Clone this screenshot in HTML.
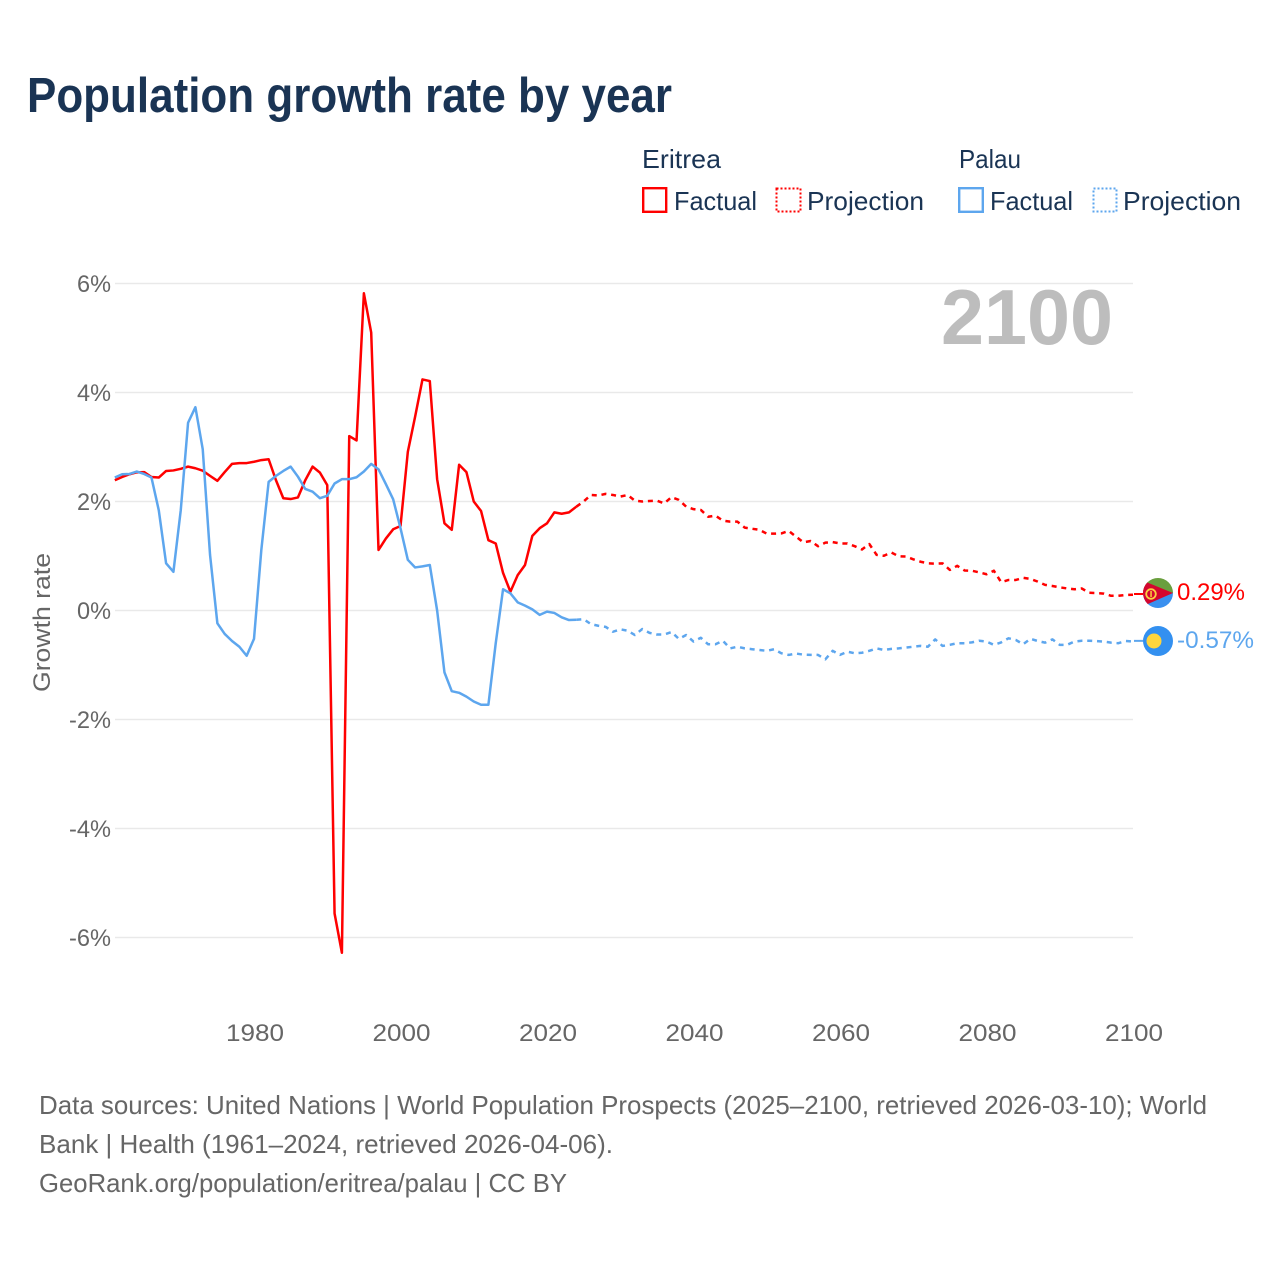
<!DOCTYPE html>
<html lang="en">
<head>
<meta charset="utf-8">
<title>Population growth rate by year</title>
<style>
html,body{margin:0;padding:0;background:#fff;}
svg{display:block;font-family:"Liberation Sans",sans-serif;}
</style>
</head>
<body>
<svg id="chart" xmlns="http://www.w3.org/2000/svg" width="1280" height="1280" viewBox="0 0 1280 1280">
  <defs>
    <clipPath id="flag-clip-a"><circle cx="1158" cy="593" r="15"></circle></clipPath>
  </defs>
  <rect x="0" y="0" width="1280" height="1280" fill="#fff"></rect>
  <text x="27" y="112" font-size="49" font-weight="700" fill="#1a3454" textLength="645" lengthAdjust="spacingAndGlyphs">Population growth rate by year</text>

  <g font-size="26" fill="#1a3454">
    <text x="642" y="168" textLength="79" lengthAdjust="spacingAndGlyphs">Eritrea</text>
    <rect x="643.2" y="188.2" width="23" height="23.6" fill="none" stroke="#ff0000" stroke-width="2.4"></rect>
    <text x="674" y="210" textLength="83" lengthAdjust="spacingAndGlyphs">Factual</text>
    <rect x="776.5" y="188.5" width="24" height="23" fill="none" stroke="#ff0000" stroke-width="2" stroke-dasharray="2 2"></rect>
    <text x="807" y="210" textLength="117" lengthAdjust="spacingAndGlyphs">Projection</text>
    <text x="959" y="168" textLength="62" lengthAdjust="spacingAndGlyphs">Palau</text>
    <rect x="959.2" y="188.2" width="23.6" height="23.6" fill="none" stroke="#5da6ee" stroke-width="2.4"></rect>
    <text x="990" y="210" textLength="83" lengthAdjust="spacingAndGlyphs">Factual</text>
    <rect x="1093.5" y="188.5" width="23" height="23" fill="none" stroke="#5da6ee" stroke-width="2" stroke-dasharray="2 2"></rect>
    <text x="1123" y="210" textLength="118" lengthAdjust="spacingAndGlyphs">Projection</text>
  </g>

  <g id="grid"></g>
  <g id="y-ticks" font-size="24" fill="#666"></g>
  <g id="x-ticks" font-size="24" fill="#666"></g>
  <text transform="translate(50 622.5) rotate(-90)" text-anchor="middle" font-size="24" fill="#666" textLength="139" lengthAdjust="spacingAndGlyphs">Growth rate</text>
  <text x="941" y="344" font-size="78" font-weight="700" fill="#bdbdbd" textLength="172" lengthAdjust="spacingAndGlyphs">2100</text>
  <g id="series"></g>

  <g id="flag-eritrea">
    <g clip-path="url(#flag-clip-a)">
      <rect x="1140" y="575" width="36" height="18" fill="#6a9f3e"></rect>
      <rect x="1140" y="593" width="36" height="18" fill="#3a90ef"></rect>
      <polygon points="1140,579.5 1173,593 1140,607.5" fill="#d4062e"></polygon>
      <circle cx="1151" cy="594" r="4.8" fill="none" stroke="#f8d040" stroke-width="1.8"></circle>
      <rect x="1150.3" y="591" width="1.5" height="6" fill="#f8d040"></rect>
    </g>
  </g>
  <g id="flag-palau">
    <circle cx="1158" cy="641" r="15" fill="#3390f0"></circle>
    <circle cx="1154" cy="641" r="7.5" fill="#ffd53d"></circle>
  </g>
  <text id="label-eritrea" x="1177" y="600" font-size="24" fill="#ff0000" textLength="68" lengthAdjust="spacingAndGlyphs"></text>
  <text id="label-palau" x="1177" y="648" font-size="24" fill="#5da6ee" textLength="77" lengthAdjust="spacingAndGlyphs"></text>

  <g font-size="26" fill="#666">
    <text x="39" y="1114" textLength="1168" lengthAdjust="spacingAndGlyphs">Data sources: United Nations | World Population Prospects (2025–2100, retrieved 2026-03-10); World</text>
    <text x="39" y="1153" textLength="574" lengthAdjust="spacingAndGlyphs">Bank | Health (1961–2024, retrieved 2026-04-06).</text>
    <text x="39" y="1192" textLength="528" lengthAdjust="spacingAndGlyphs">GeoRank.org/population/eritrea/palau | CC BY</text>
  </g>
</svg>
<script>
var yTicks = [6, 4, 2, 0, -2, -4, -6];
var xTicks = [1980, 2000, 2020, 2040, 2060, 2080, 2100];
var factualStartYear = 1961;
var projectionStartYear = 2024;
var eritreaFactual = [2.39,2.45,2.5,2.535,2.54,2.45,2.44,2.56,2.57,2.6,2.64,2.61,2.565,2.47,2.38,2.54,2.69,2.705,2.705,2.73,2.76,2.775,2.39,2.06,2.045,2.075,2.39,2.64,2.53,2.3,-5.56,-6.28,3.2,3.12,5.82,5.1,1.11,1.32,1.49,1.55,2.91,3.56,4.24,4.21,2.41,1.6,1.48,2.675,2.54,2.0,1.825,1.29,1.23,0.69,0.345,0.65,0.835,1.37,1.51,1.6,1.8,1.775,1.8,1.905];
var palauFactual = [2.44,2.5,2.505,2.55,2.505,2.44,1.84,0.865,0.71,1.84,3.445,3.73,2.96,1.02,-0.235,-0.43,-0.56,-0.665,-0.83,-0.52,1.11,2.36,2.47,2.56,2.64,2.455,2.23,2.18,2.06,2.105,2.33,2.41,2.41,2.445,2.55,2.69,2.59,2.32,2.04,1.51,0.93,0.79,0.81,0.835,0,-1.135,-1.48,-1.51,-1.58,-1.67,-1.73,-1.73,-0.6,0.39,0.315,0.15,0.09,0.02,-0.08,-0.02,-0.045,-0.125,-0.175,-0.17];
var eritreaProjection = [1.905,2.0,2.12,2.11,2.14,2.12,2.09,2.12,2.015,2.0,2.01,2.015,1.965,2.08,2.03,1.905,1.86,1.845,1.72,1.74,1.65,1.63,1.63,1.52,1.5,1.48,1.41,1.41,1.415,1.46,1.355,1.25,1.275,1.18,1.245,1.255,1.23,1.23,1.18,1.12,1.22,1.02,1.005,1.065,0.995,0.99,0.94,0.895,0.865,0.86,0.865,0.745,0.82,0.735,0.73,0.7,0.665,0.73,0.52,0.56,0.56,0.6,0.58,0.53,0.47,0.45,0.425,0.405,0.39,0.405,0.325,0.32,0.31,0.27,0.27,0.285,0.29];
var palauProjection = [-0.17,-0.16,-0.25,-0.28,-0.3,-0.39,-0.345,-0.37,-0.45,-0.34,-0.41,-0.44,-0.44,-0.395,-0.52,-0.45,-0.57,-0.5,-0.62,-0.62,-0.555,-0.695,-0.665,-0.695,-0.71,-0.725,-0.74,-0.71,-0.785,-0.815,-0.79,-0.81,-0.815,-0.815,-0.895,-0.74,-0.815,-0.755,-0.785,-0.775,-0.74,-0.695,-0.725,-0.705,-0.695,-0.68,-0.665,-0.65,-0.665,-0.53,-0.65,-0.63,-0.6,-0.6,-0.585,-0.555,-0.57,-0.63,-0.585,-0.51,-0.54,-0.62,-0.52,-0.56,-0.59,-0.53,-0.63,-0.63,-0.57,-0.555,-0.555,-0.56,-0.57,-0.59,-0.6,-0.56,-0.57];

var SVGNS = 'http://www.w3.org/2000/svg';
function xScale(year) { return 1133 + (year - 2100) * 7.325; }
function yScale(value) { return 610.5 - value * 54.5; }
function pathFor(values, startYear) {
  return values.map(function (v, i) {
    return (i ? 'L' : 'M') + xScale(startYear + i).toFixed(2) + ' ' + yScale(v).toFixed(2);
  }).join(' ');
}
function drawLine(values, startYear, color, dash) {
  var p = document.createElementNS(SVGNS, 'path');
  p.setAttribute('d', pathFor(values, startYear));
  p.setAttribute('fill', 'none');
  p.setAttribute('stroke', color);
  p.setAttribute('stroke-width', '2.5');
  p.setAttribute('stroke-linejoin', 'round');
  if (dash) p.setAttribute('stroke-dasharray', dash);
  document.getElementById('series').appendChild(p);
  return p;
}
function drawConnector(value, color) {
  var c = document.createElementNS(SVGNS, 'line');
  c.setAttribute('x1', xScale(2100) + 1);
  c.setAttribute('x2', 1143);
  c.setAttribute('y1', yScale(value) - 0.7);
  c.setAttribute('y2', yScale(value) - 0.7);
  c.setAttribute('stroke', color);
  c.setAttribute('stroke-width', '2');
  document.getElementById('series').appendChild(c);
  return c;
}

yTicks.forEach(function (t) {
  var line = document.createElementNS(SVGNS, 'line');
  
  
  line.setAttribute('x1', 115);
  line.setAttribute('x2', 1133);
  line.setAttribute('y1', yScale(t));
  line.setAttribute('y2', yScale(t));
  line.setAttribute('stroke', '#e9e9e9');
  line.setAttribute('stroke-width', '1.5');
  document.getElementById('grid').appendChild(line);

  var label = t + '%';
  var text = document.createElementNS(SVGNS, 'text');
  
  
  var w = 17 + (label.length - 1) * (t < 0 ? 12.5 : 17);
  text.setAttribute('x', 111 - w);
  text.setAttribute('y', yScale(t) + 8.5);
  text.setAttribute('textLength', w);
  text.setAttribute('lengthAdjust', 'spacingAndGlyphs');
  text.textContent = label;
  document.getElementById('y-ticks').appendChild(text);
});

xTicks.forEach(function (t) {
  var text = document.createElementNS(SVGNS, 'text');
  
  
  text.setAttribute('x', xScale(t) - 28);
  text.setAttribute('y', 1041);
  text.setAttribute('textLength', 58);
  text.setAttribute('lengthAdjust', 'spacingAndGlyphs');
  text.textContent = String(t);
  document.getElementById('x-ticks').appendChild(text);
});

var eritreaFactualLine = drawLine(eritreaFactual, factualStartYear, '#ff0000');


var eritreaProjectionLine = drawLine(eritreaProjection, projectionStartYear, '#ff0000', '5 4.8');


var palauFactualLine = drawLine(palauFactual, factualStartYear, '#5da6ee');


var palauProjectionLine = drawLine(palauProjection, projectionStartYear, '#5da6ee', '5 4.8');



var eritreaLast = eritreaProjection[eritreaProjection.length - 1];
var palauLast = palauProjection[palauProjection.length - 1];
var eritreaConnector = drawConnector(eritreaLast, '#ff0000');


var palauConnector = drawConnector(palauLast, '#5da6ee');



document.getElementById('label-eritrea').textContent = eritreaLast.toFixed(2) + '%';
document.getElementById('label-palau').textContent = palauLast.toFixed(2) + '%';
</script>
</body>
</html>
